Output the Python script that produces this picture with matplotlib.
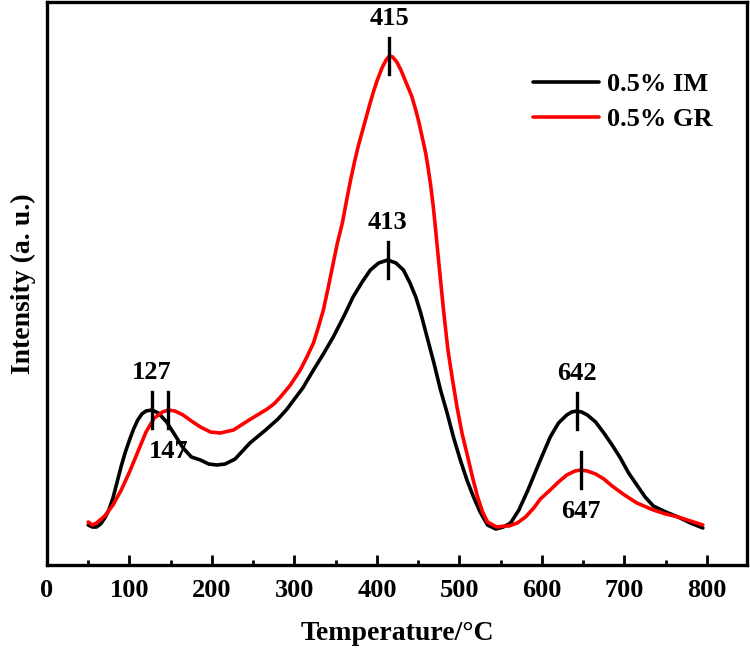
import numpy as np
import matplotlib.pyplot as plt

# temperature (°C) and intensity (a.u.)
temp_im = [50, 55, 60, 65, 70, 75, 80, 85, 90, 95, 100, 105, 110, 115, 120, 127,
           135, 145, 155, 165, 175, 186, 196, 206, 216, 228, 246, 265, 280, 291,
           300, 310, 323, 335, 347, 360, 371, 382, 392, 402, 413, 423, 432, 440,
           447, 453, 461, 469, 477, 485, 493, 501, 509, 517, 525, 534, 544, 553,
           562, 572, 583, 590, 598, 610, 620, 630, 636, 642, 648, 655, 665, 675,
           685, 695, 705, 715, 725, 735, 750, 765, 780, 795]
int_im = [40, 38, 38, 41, 47, 55, 67, 83, 99, 113, 125, 136, 145, 151, 154, 155,
          152, 143, 130, 117, 108, 105, 101, 100, 101, 106, 122, 135, 146, 156,
          166, 177, 195, 211, 228, 249, 268, 283, 295, 302, 305, 302, 295, 282,
          268, 252, 227, 202, 175, 152, 127, 105, 85, 68, 53, 40, 36, 38,
          42, 55, 75, 89, 105, 128, 142, 150, 153, 154, 153, 150, 143, 132,
          120, 107, 92, 80, 68, 59, 53, 48, 42, 37]

temp_gr = [50, 55, 60, 70, 80, 90, 100, 110, 120, 130, 140, 147, 155, 165, 175,
           186, 198, 210, 226, 245, 255, 267, 275, 283, 295, 307, 315, 323, 329,
           335, 341, 347, 352, 358, 363, 368, 373, 377, 382, 387, 391, 396, 400,
           406, 411, 415, 419, 424, 429, 436, 442, 447, 451, 455, 459, 462, 465,
           468, 471, 474, 477, 480, 483, 486, 491, 497, 503, 510, 516, 522, 528,
           534, 545, 555, 560, 570, 580, 590, 598, 610, 620, 630, 640, 647, 655,
           665, 675, 685, 700, 715, 735, 750, 765, 780, 795]
int_gr = [43, 40, 42, 49, 60, 75, 93, 113, 133, 147, 153, 155, 154, 150, 144,
          138, 133, 132, 135, 145, 150, 156, 161, 168, 180, 195, 208, 222, 238,
          255, 278, 302, 322, 342, 364, 385, 404, 418, 433, 448, 460, 474, 484,
          497, 505, 509, 508, 503, 495, 481, 469, 455, 442, 427, 412, 397, 380,
          360, 336, 310, 285, 260, 237, 215, 188, 158, 132, 108, 87, 68, 53,
          43, 38, 39, 39, 42, 48, 57, 66, 75, 83, 90, 94, 95, 94,
          91, 86, 79, 70, 62, 55, 51, 48, 44, 40]

series_labels = ['0.5% IM', '0.5% GR']
series_colors = ['black', 'red']

# peak markers: (series index, temperature, label above?)
peaks = [(0, 127, True), (1, 147, False), (1, 415, True),
         (0, 413, True), (0, 642, True), (1, 647, False)]

plt.rcParams['font.family'] = ['Liberation Serif', 'DejaVu Serif']
plt.rcParams['font.weight'] = 'bold'

fig = plt.figure(figsize=(7.5, 6.57), dpi=100)
ax = fig.add_axes([47 / 750, 92 / 657, 700 / 750, 563 / 657])

temps = [temp_im, temp_gr]
ints = [int_im, int_gr]
for t, y, lab, c in zip(temps, ints, series_labels, series_colors):
    ax.plot(t, y, color=c, lw=2.6, label=lab, solid_capstyle='round',
            solid_joinstyle='round')

for idx, tp, above in peaks:
    yp = np.interp(tp, temps[idx], ints[idx])
    ax.plot([tp, tp], [yp - 18, yp + 18], color='black', lw=2.4)
    off = 27 if above else -30
    ax.annotate(str(tp), (tp, yp), xytext=(0, off), textcoords='offset points',
                ha='center', va='center', fontsize=19, fontweight='bold')

ax.set_xlim(0, 848.5)
ax.set_ylim(0, 563)
ax.set_xticks(np.arange(0, 801, 100))
ax.set_xticks(np.arange(50, 800, 100), minor=True)
ax.set_yticks([])
ax.tick_params(axis='x', which='major', direction='in', length=7, width=2,
               labelsize=19, pad=10)
ax.tick_params(axis='x', which='minor', direction='in', length=3.5, width=2)
for s in ax.spines.values():
    s.set_linewidth(2.4)

ax.set_xlabel('Temperature/°C', fontsize=20, fontweight='bold', labelpad=14)
ax.set_ylabel('Intensity (a. u.)', fontsize=20, fontweight='bold', labelpad=8)

ax.legend(loc='upper right', bbox_to_anchor=(0.985, 0.917), frameon=False,
          fontsize=19, handlelength=2.5, handletextpad=0.3, labelspacing=0.45)

fig.savefig('out.png', dpi=100)
